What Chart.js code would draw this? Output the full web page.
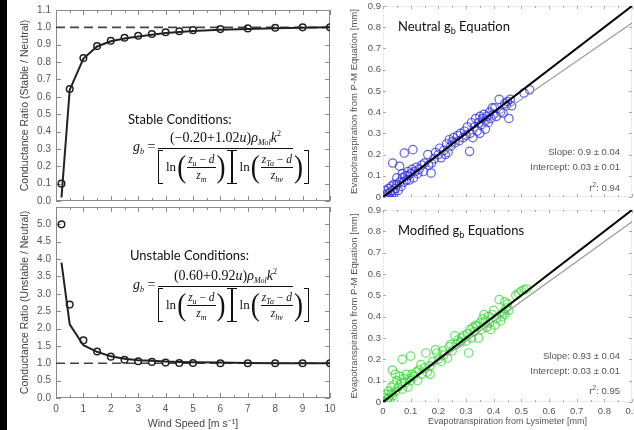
<!DOCTYPE html>
<html>
<head>
<meta charset="utf-8">
<script src="https://cdn.jsdelivr.net/npm/chart.js@4.4.1/dist/chart.umd.min.js"></script>
<style>
    body { margin: 0; background: #fff; }
    #page { position: relative; width: 634px; height: 430px; overflow: hidden; }
    canvas { position: absolute; }
    #bar { position: absolute; left: 0; top: 0; width: 7px; height: 430px; background: #000; }
    .ann { position: absolute; font-family: Lato, 'Open Sans', sans-serif; font-size: 13px; color: #111; white-space: nowrap; line-height: 1; }
    .ann sub { font-size: 9px; vertical-align: -3px; line-height: 0; }
    .stat { position: absolute; right: 14px; font-family: 'Liberation Sans', Arial, sans-serif; font-size: 9.5px; color: #555; white-space: nowrap; line-height: 1; }
    .stat sup { font-size: 7px; vertical-align: 4px; line-height: 0; }
    .eq { position: absolute; width: 170px; height: 56px; font-family: 'Liberation Serif', 'DejaVu Serif', serif; color: #111; white-space: nowrap; }
    .eq i { font-style: italic; }
    .eq sub { font-size: 8px; vertical-align: -3px; line-height: 0; }
    .eq sup { font-size: 8px; vertical-align: 6px; line-height: 0; }
    .eq .lhs { position: absolute; left: 0; top: 8px; font-size: 14px; line-height: 16px; }
    .eq .num { position: absolute; left: 25px; width: 135px; top: 0; text-align: center; font-size: 14px; line-height: 14px; }
    .eq .fbar { position: absolute; left: 25px; width: 135px; top: 17px; border-top: 1px solid #111; }
    .eq .den { position: absolute; left: 25px; top: 19px; height: 34px; display: flex; align-items: center; }
    .eq .brk { display: inline-block; width: 4px; height: 32px; border: 1px solid #111; }
    .eq .brk.l { border-right: none; }
    .eq .brk.r { border-left: none; }
    .eq .ln { font-size: 13px; margin: 0 0 0 3px; }
    .eq .par { font-size: 27px; line-height: 30px; display: inline-block; transform: scaleY(1.15); margin: 0 1px; }
    .eq .sf { display: inline-flex; flex-direction: column; align-items: center; font-size: 11.5px; line-height: 13px; }
    .eq .sf .t { border-bottom: 1px solid #111; padding: 0 1px 1px; }
    .eq .sf .b { padding-top: 1px; }
</style>
</head>
<body>
<div id="page">
    <div id="bar"></div>
    <canvas id="stableChart" width="332" height="207" style="left:8px;top:0"></canvas>
    <canvas id="unstableChart" width="332" height="223" style="left:8px;top:207px"></canvas>
    <canvas id="neutralChart" width="298" height="206" style="left:336px;top:0"></canvas>
    <canvas id="modifiedChart" width="298" height="224" style="left:336px;top:206px"></canvas>

    <div class="ann" style="left:128px;top:113px">Stable Conditions:</div>
    <div class="eq" id="eqStable" style="left:133px;top:131px"></div>
    <div class="ann" style="left:130px;top:249px">Unstable Conditions:</div>
    <div class="eq" id="eqUnstable" style="left:133px;top:269px"></div>

    <div class="ann" style="left:398px;top:20px">Neutral g<sub>b</sub> Equation</div>
    <div class="ann" style="left:398px;top:224px">Modified g<sub>b</sub> Equations</div>

    <div class="stat" style="top:147px">Slope: 0.9 ± 0.04</div>
    <div class="stat" style="top:162px">Intercept: 0.03 ± 0.01</div>
    <div class="stat" style="top:183px">r<sup>2</sup>: 0.94</div>
    <div class="stat" style="top:351px">Slope: 0.93 ± 0.04</div>
    <div class="stat" style="top:366px">Intercept: 0.03 ± 0.01</div>
    <div class="stat" style="top:386px">r<sup>2</sup>: 0.95</div>
</div>

<script>
// wind speed panels
const windSpeed = [0.2, 0.5, 1, 1.5, 2, 2.5, 3, 3.5, 4, 4.5, 5, 6, 7, 8, 9, 10];
const stableObs = [0.10, 0.645, 0.823, 0.892, 0.923, 0.94, 0.952, 0.962, 0.972, 0.978, 0.984, 0.99, 0.994, 0.998, 1.0, 1.0];
const stableModel = [0.02, 0.64, 0.82, 0.89, 0.92, 0.936, 0.948, 0.958, 0.967, 0.973, 0.979, 0.986, 0.991, 0.995, 0.998, 1.0];
const unstableObs = [5.0, 2.69, 1.66, 1.34, 1.19, 1.1, 1.06, 1.04, 1.02, 1.01, 1.01, 1.0, 1.0, 1.0, 1.0, 1.0];
const unstableModel = [3.9, 2.12, 1.52, 1.33, 1.2, 1.13, 1.09, 1.07, 1.05, 1.04, 1.03, 1.02, 1.01, 1.0, 1.0, 1.0];
const neutralRatio = 1.0;

// lysimeter panels (mm)
const neutralLys = [0.00, 0.005, 0.01, 0.01, 0.015, 0.02, 0.02, 0.025, 0.03, 0.03, 0.035, 0.035, 0.04, 0.04, 0.045, 0.05, 0.05, 0.055, 0.06, 0.06,
    0.065, 0.07, 0.07, 0.075, 0.077, 0.08, 0.085, 0.09, 0.09, 0.095, 0.1, 0.105, 0.108, 0.11, 0.115, 0.12, 0.125, 0.13, 0.14, 0.145,
    0.15, 0.162, 0.165, 0.174, 0.175, 0.185, 0.19, 0.2, 0.205, 0.21, 0.22, 0.225, 0.23, 0.235, 0.24, 0.245, 0.25, 0.255, 0.26, 0.27,
    0.275, 0.28, 0.29, 0.295, 0.3, 0.305, 0.313, 0.315, 0.32, 0.325, 0.33, 0.335, 0.34, 0.345, 0.35, 0.35, 0.355, 0.36, 0.365, 0.37,
    0.37, 0.375, 0.38, 0.385, 0.39, 0.395, 0.4, 0.404, 0.41, 0.42, 0.425, 0.434, 0.44, 0.445, 0.45, 0.455, 0.46, 0.465, 0.51, 0.53];
const neutralPM = [0.00, 0.01, 0.03, 0.0, 0.015, 0.04, 0.005, 0.02, 0.05, 0.01, 0.03, 0.16, 0.06, 0.02, 0.04, 0.09, 0.06, 0.03, 0.145, 0.07,
    0.05, 0.09, 0.11, 0.07, 0.207, 0.1, 0.08, 0.12, 0.1, 0.08, 0.11, 0.13, 0.223, 0.09, 0.12, 0.14, 0.11, 0.13, 0.15, 0.12,
    0.16, 0.2, 0.15, 0.113, 0.16, 0.18, 0.21, 0.2, 0.23, 0.185, 0.22, 0.2, 0.25, 0.21, 0.27, 0.24, 0.26, 0.28, 0.255, 0.29,
    0.265, 0.3, 0.28, 0.31, 0.29, 0.33, 0.215, 0.3, 0.35, 0.28, 0.33, 0.37, 0.31, 0.35, 0.38, 0.3, 0.34, 0.37, 0.39, 0.32,
    0.36, 0.38, 0.35, 0.4, 0.37, 0.42, 0.39, 0.42, 0.38, 0.46, 0.4, 0.395, 0.44, 0.43, 0.45, 0.37, 0.46, 0.43, 0.49, 0.505];

const modifiedLys = [0.0, 0.005, 0.01, 0.01, 0.015, 0.02, 0.02, 0.025, 0.03, 0.03, 0.034, 0.035, 0.04, 0.045, 0.045, 0.05, 0.055, 0.06, 0.065, 0.07,
    0.07, 0.075, 0.08, 0.085, 0.09, 0.095, 0.1, 0.1, 0.105, 0.11, 0.12, 0.125, 0.13, 0.137, 0.14, 0.15, 0.155, 0.16, 0.17, 0.17,
    0.18, 0.19, 0.195, 0.2, 0.21, 0.215, 0.22, 0.233, 0.24, 0.245, 0.25, 0.26, 0.265, 0.27, 0.28, 0.285, 0.29, 0.3, 0.305, 0.31,
    0.315, 0.32, 0.325, 0.33, 0.335, 0.34, 0.345, 0.35, 0.355, 0.36, 0.365, 0.37, 0.375, 0.38, 0.385, 0.39, 0.395, 0.4, 0.405, 0.41,
    0.42, 0.425, 0.43, 0.435, 0.44, 0.44, 0.445, 0.45, 0.455, 0.48, 0.49, 0.5, 0.51, 0.52];
const modifiedPM = [0.005, 0.02, 0.0, 0.035, 0.01, 0.05, 0.02, 0.005, 0.04, 0.07, 0.15, 0.03, 0.08, 0.05, 0.13, 0.1, 0.07, 0.12, 0.09, 0.2,
    0.06, 0.11, 0.09, 0.13, 0.07, 0.11, 0.215, 0.1, 0.13, 0.12, 0.14, 0.1, 0.15, 0.175, 0.13, 0.16, 0.23, 0.14, 0.13, 0.17,
    0.19, 0.245, 0.23, 0.2, 0.19, 0.24, 0.22, 0.206, 0.26, 0.27, 0.24, 0.31, 0.27, 0.29, 0.28, 0.3, 0.31, 0.285, 0.32, 0.23,
    0.34, 0.3, 0.35, 0.33, 0.36, 0.355, 0.3, 0.37, 0.34, 0.39, 0.41, 0.38, 0.35, 0.4, 0.37, 0.34, 0.41, 0.43, 0.36, 0.39,
    0.48, 0.38, 0.4, 0.42, 0.41, 0.47, 0.44, 0.46, 0.43, 0.5, 0.51, 0.52, 0.527, 0.53];

const lineX = [0, 0.9];
const oneToOneY = [0, 0.9];
const neutralFitY = [0.01, 0.82];
const modifiedFitY = [0.005, 0.845];

const windTicks = [0, 1, 2, 3, 4, 5, 6, 7, 8, 9, 10];
const etTicks = [0, 0.1, 0.2, 0.3, 0.4, 0.5, 0.6, 0.7, 0.8, 0.9];

/* ===================================================== */
/* HELPERS                                                 */
/* ===================================================== */

const SANS = "'Liberation Sans', Arial, sans-serif";

function pts(xs, ys) {
    return xs.map((x, i) => ({ x: x, y: ys[i] }));
}

// frame round the plot area, with short ticks pointing inwards on all four sides
const boxTicks = {
    id: 'boxTicks',
    beforeDatasetsDraw(chart, args, o) {
        const { ctx, chartArea: a, scales: { x, y } } = chart;
        ctx.save();
        ctx.strokeStyle = o.color;
        ctx.lineWidth = 1;
        if (o.dash) ctx.setLineDash(o.dash);
        ctx.strokeRect(Math.round(a.left) + 0.5, Math.round(a.top) + 0.5, Math.round(a.width) - 1, Math.round(a.height) - 1);
        ctx.setLineDash([]);
        ctx.strokeStyle = o.tickColor || o.color;
        ctx.beginPath();
        const marks = (scale, step, len, horiz) => {
            for (let v = scale.min; v <= scale.max + 1e-9; v += step) {
                const p = Math.round(scale.getPixelForValue(v)) + 0.5;
                if (horiz) {
                    ctx.moveTo(p, a.bottom); ctx.lineTo(p, a.bottom - len);
                    ctx.moveTo(p, a.top); ctx.lineTo(p, a.top + len);
                } else {
                    ctx.moveTo(a.left, p); ctx.lineTo(a.left + len, p);
                    ctx.moveTo(a.right, p); ctx.lineTo(a.right - len, p);
                }
            }
        };
        marks(x, o.xMajor, o.major, true);
        if (o.xMinor) marks(x, o.xMinor, o.minor, true);
        marks(y, o.yMajor, o.major, false);
        if (o.yMinor) marks(y, o.yMinor, o.minor, false);
        ctx.stroke();
        ctx.restore();
    }
};

// fixed axis sizes, and no extra room reserved for the end labels
function fixWidth(w) { return s => { s.width = w; s.paddingTop = 0; s.paddingBottom = 0; }; }
function fixHeight(h) { return s => { s.height = h; s.paddingLeft = 0; s.paddingRight = 0; }; }

/* ===================================================== */
/* WIND SPEED PANELS                                       */
/* ===================================================== */

function windChart(id, obs, model, yMax, yStep, title, showX, pad, xHeight) {
    const ctx = document.getElementById(id).getContext('2d');
    return new Chart(ctx, {
        type: 'line',
        data: {
            datasets: [{
                data: pts(windSpeed, obs),
                showLine: false,
                pointRadius: 3.3,
                pointBorderWidth: 1.5,
                pointBorderColor: '#222',
                pointBackgroundColor: 'rgba(0,0,0,0)',
                order: 0
            }, {
                data: pts(windSpeed, model),
                borderColor: '#222',
                borderWidth: 2,
                pointRadius: 0,
                tension: 0,
                order: 1
            }, {
                data: pts([0, 10], [neutralRatio, neutralRatio]),
                borderColor: '#444',
                borderWidth: 1.6,
                borderDash: [9, 5],
                pointRadius: 0,
                order: 2
            }]
        },
        options: {
            responsive: false,
            animation: false,
            devicePixelRatio: 1,
            layout: { padding: pad, autoPadding: false },
            plugins: {
                legend: { display: false },
                tooltip: { enabled: false },
                boxTicks: { color: '#8a8a8a', xMajor: 1, xMinor: 0.5, yMajor: yStep, major: 5, minor: 3 }
            },
            scales: {
                x: {
                    type: 'linear', min: 0, max: 10,
                    grid: { display: false, drawTicks: false },
                    border: { display: false },
                    afterBuildTicks: s => { s.ticks = windTicks.map(v => ({ value: v })); },
                    ticks: { display: showX, padding: 5, color: '#555', font: { family: SANS, size: 10 } },
                    title: { display: showX, text: 'Wind Speed [m s⁻¹]', color: '#444', font: { family: SANS, size: 10.5 }, padding: { top: 0, bottom: 0 } },
                    afterFit: fixHeight(xHeight)
                },
                y: {
                    min: 0, max: yMax,
                    grid: { display: false, drawTicks: false },
                    border: { display: false },
                    ticks: {
                        stepSize: yStep, padding: 5, color: '#555', font: { family: SANS, size: 10 },
                        callback: v => (v > 5.01 ? '' : v.toFixed(1))
                    },
                    title: { display: true, text: title, color: '#444', font: { family: SANS, size: 10.5 }, padding: { top: 11, bottom: 0 } },
                    afterFit: fixWidth(48)
                }
            }
        },
        plugins: [boxTicks]
    });
}

/* ===================================================== */
/* LYSIMETER PANELS                                        */
/* ===================================================== */

function etChart(id, xs, ys, fitY, color, showX, pad, xHeight) {
    const ctx = document.getElementById(id).getContext('2d');
    return new Chart(ctx, {
        type: 'scatter',
        data: {
            datasets: [{
                type: 'line',
                data: pts(lineX, oneToOneY),
                borderColor: '#000',
                borderWidth: 2,
                pointRadius: 0,
                order: 0
            }, {
                type: 'line',
                data: pts(lineX, fitY),
                borderColor: '#999',
                borderWidth: 1.2,
                pointRadius: 0,
                order: 1
            }, {
                data: pts(xs, ys),
                pointRadius: 4.2,
                borderWidth: 1.2,
                borderColor: color,
                backgroundColor: 'rgba(0,0,0,0)',
                order: 2
            }]
        },
        options: {
            responsive: false,
            animation: false,
            devicePixelRatio: 1,
            layout: { padding: pad, autoPadding: false },
            plugins: {
                legend: { display: false },
                tooltip: { enabled: false },
                boxTicks: { color: '#c4c4c4', dash: [1, 2], tickColor: '#aaa', xMajor: 0.1, yMajor: 0.1, xMinor: 0.05, major: 3, minor: 2 }
            },
            scales: {
                x: {
                    type: 'linear', min: 0, max: 0.9,
                    grid: { display: false, drawTicks: false },
                    border: { display: false },
                    afterBuildTicks: s => { s.ticks = etTicks.map(v => ({ value: v })); },
                    ticks: { display: showX, padding: 4, color: '#555', font: { family: SANS, size: 9.5 }, callback: v => String(+v.toFixed(1)) },
                    title: { display: showX, text: 'Evapotranspiration from Lysimeter [mm]', color: '#555', font: { family: SANS, size: 9 }, padding: { top: 0, bottom: 3 } },
                    afterFit: fixHeight(xHeight)
                },
                y: {
                    min: 0, max: 0.9,
                    grid: { display: false, drawTicks: false },
                    border: { display: false },
                    afterBuildTicks: s => { s.ticks = etTicks.map(v => ({ value: v })); },
                    ticks: { padding: 2, color: '#555', font: { family: SANS, size: 9.5 }, callback: v => String(+v.toFixed(1)) },
                    title: { display: true, text: 'Evapotranspiration from P-M Equation [mm]', color: '#555', font: { family: SANS, size: 9.5 }, padding: { top: 13, bottom: 0 } },
                    afterFit: fixWidth(47)
                }
            }
        },
        plugins: [boxTicks]
    });
}

/* ===================================================== */
/* EQUATIONS                                               */
/* ===================================================== */

function lnTerm(top, bottom) {
    return `<span class="brk l"></span><span class="ln">ln</span><span class="par">(</span>` +
        `<span class="sf"><span class="t">${top} − <i>d</i></span><span class="b">${bottom}</span></span>` +
        `<span class="par">)</span><span class="brk r"></span>`;
}

function renderEq(id, numerator) {
    const el = document.getElementById(id);
    el.innerHTML = `
        <span class="lhs"><i>g<sub>b</sub></i> =</span>
        <span class="num">${numerator}<i>ρ<sub>Mol</sub>k</i><sup>2</sup></span>
        <span class="fbar"></span>
        <span class="den">${lnTerm('<i>z<sub>u</sub></i>', '<i>z<sub>m</sub></i>')}${lnTerm('<i>z<sub>Ta</sub></i>', '<i>z<sub>hv</sub></i>')}</span>
    `;
}

renderEq('eqStable', '(−0.20+1.02<i>u</i>)');
renderEq('eqUnstable', '(0.60+0.92<i>u</i>)');

windChart('stableChart', stableObs, stableModel, 1.1, 0.1, 'Conductance Ratio (Stable / Neutral)', false,
    { left: 0, top: 10, right: 10, bottom: 0 }, 6);
windChart('unstableChart', unstableObs, unstableModel, 5.5, 0.5, 'Conductance Ratio (Unstable / Neutral)', true,
    { left: 0, top: 0, right: 10, bottom: 0 }, 32);
etChart('neutralChart', neutralLys, neutralPM, neutralFitY, 'rgba(45,45,225,0.75)', false,
    { left: 0, top: 6, right: 2, bottom: 0 }, 9);
etChart('modifiedChart', modifiedLys, modifiedPM, modifiedFitY, 'rgba(40,215,40,0.7)', true,
    { left: 0, top: 4, right: 2, bottom: 0 }, 28);
</script>
</body>
</html>
